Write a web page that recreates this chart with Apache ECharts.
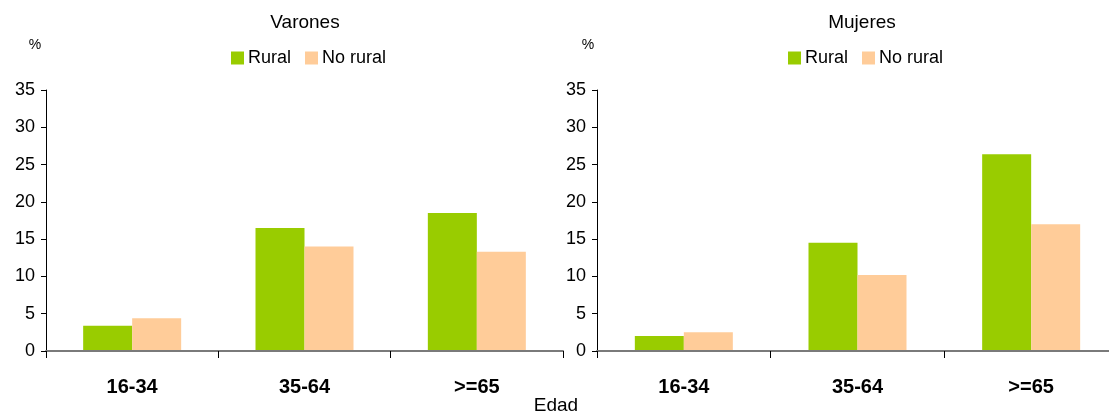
<!DOCTYPE html>
<html>
<head>
<meta charset="utf-8">
<script src="https://cdn.jsdelivr.net/npm/echarts@6/dist/echarts.min.js"></script>
<style>
  html, body { margin: 0; padding: 0; background: #ffffff; }
  #chart { width: 1109px; height: 414px; }
</style>
</head>
<body>
<div id="chart"></div>
<script>
// Age groups on the x axis
var ageGroups = ['16-34', '35-64', '>=65'];
// Share (%) per age group, men
var menRural = [3.4, 16.5, 18.5];
var menNonRural = [4.4, 14.0, 13.3];
// Share (%) per age group, women
var womenRural = [2.0, 14.5, 26.4];
var womenNonRural = [2.5, 10.2, 17.0];
// Value axis ticks
var yMin = 0, yMax = 35, yStep = 5;

var FONT = '"Liberation Sans", Arial, sans-serif';
var GREEN = '#99CC00';
var PEACH = '#FFCC99';

var chart = echarts.init(document.getElementById('chart'), null, { renderer: 'canvas' });

function xAxisFor(gridIndex) {
  return {
    type: 'category',
    gridIndex: gridIndex,
    data: ageGroups,
    z: 5,
    axisLine: { show: true, lineStyle: { color: '#7a7a7a', width: 2 } },
    axisTick: { show: true, alignWithLabel: false, length: 7, lineStyle: { color: '#000', width: 1 } },
    axisLabel: { color: '#000', fontFamily: FONT, fontWeight: 'bold', fontSize: 20, margin: 26 },
    splitLine: { show: false }
  };
}

function yAxisFor(gridIndex) {
  return {
    type: 'value',
    gridIndex: gridIndex,
    min: yMin,
    max: yMax,
    interval: yStep,
    z: 5,
    axisLine: { show: true, lineStyle: { color: '#000', width: 1 } },
    axisTick: { show: true, length: 5, lineStyle: { color: '#000', width: 1 } },
    axisLabel: { color: '#000', fontFamily: FONT, fontSize: 18, margin: 11 },
    splitLine: { show: false }
  };
}

function barSeries(name, data, color, idx) {
  return {
    name: name,
    type: 'bar',
    xAxisIndex: idx,
    yAxisIndex: idx,
    data: data,
    barWidth: 49,
    barGap: '0%',
    itemStyle: { color: color },
    emphasis: { disabled: true },
    animation: false
  };
}

function legendFor(left) {
  return {
    left: left,
    top: 44,
    itemWidth: 13,
    itemHeight: 13,
    itemGap: 14,
    icon: 'rect',
    textStyle: { color: '#000', fontFamily: FONT, fontSize: 18, padding: [0, 0, 0, -1] },
    data: ['Rural', 'No rural']
  };
}

function label(text, x, y, size) {
  return {
    type: 'text',
    x: x,
    y: y,
    style: {
      text: text,
      fill: '#000',
      font: size + 'px ' + FONT,
      textAlign: 'center',
      textVerticalAlign: 'middle'
    }
  };
}

chart.setOption({
  animation: false,
  backgroundColor: '#ffffff',
  grid: [
    { left: 46, top: 90, width: 517, height: 261, outerBoundsMode: 'none', containLabel: false },
    { left: 597, top: 90, width: 521, height: 261, outerBoundsMode: 'none', containLabel: false }
  ],
  legend: [legendFor(226), legendFor(783)],
  xAxis: [xAxisFor(0), xAxisFor(1)],
  yAxis: [yAxisFor(0), yAxisFor(1)],
  series: [
    barSeries('Rural', menRural, GREEN, 0),
    barSeries('No rural', menNonRural, PEACH, 0),
    barSeries('Rural', womenRural, GREEN, 1),
    barSeries('No rural', womenNonRural, PEACH, 1)
  ],
  graphic: [
    label('Varones', 305, 23, 19),
    label('Mujeres', 862, 23, 19),
    label('%', 35, 45, 14),
    label('%', 588, 45, 14),
    label('Edad', 556, 406, 19)
  ]
});
</script>
</body>
</html>
